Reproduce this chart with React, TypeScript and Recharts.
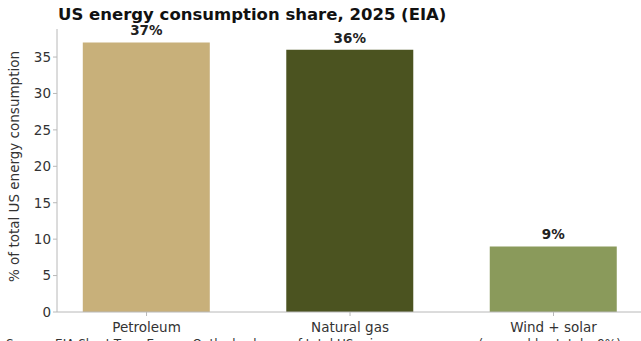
import * as React from "react";
import { BarChart, Bar, XAxis, YAxis, Cell, LabelList } from "recharts";

// values
const categories = ["Petroleum", "Natural gas", "Wind + solar"];
const shares = [37, 36, 9];
const barColors = ["#c8b07a", "#4b5320", "#8a9a5b"];
const yTicks = [0, 5, 10, 15, 20, 25, 30, 35];

const data = categories.map((name, i) => ({ x: i, name, share: shares[i] }));

const font = "DejaVu Sans, sans-serif";
const axisColor = "#b8b8b8";
const textColor = "#333";

export default function App() {
  return (
    <div
      style={{
        position: "fixed",
        left: 0,
        top: 0,
        width: 641,
        height: 341,
        overflow: "hidden",
        background: "#fff",
        fontFamily: font,
      }}
    >
      <BarChart
        width={641}
        height={341}
        data={data}
        margin={{ top: 29, right: 0, bottom: 0, left: 0 }}
      >
        <XAxis
          dataKey="x"
          type="number"
          domain={[-0.44, 2.43]}
          ticks={[0, 1, 2]}
          tickFormatter={(v: number) => categories[v] ?? ""}
          height={29}
          stroke={axisColor}
          tickSize={4}
          tickMargin={6}
          tick={{ fill: textColor, fontSize: 13.5, fontFamily: font }}
          allowDataOverflow
        />
        <YAxis
          domain={[0, 38.85]}
          ticks={yTicks}
          width={57}
          stroke={axisColor}
          tickSize={4}
          tick={{ fill: textColor, fontSize: 13.5, fontFamily: font }}
          allowDataOverflow
          label={{
            value: "% of total US energy consumption",
            angle: -90,
            position: "insideLeft",
            offset: 14,
            dy: -4,
            style: { textAnchor: "middle", fill: textColor, fontSize: 13.5, fontFamily: font },
          }}
        />
        <Bar dataKey="share" barSize={127} isAnimationActive={false}>
          {data.map((d, i) => (
            <Cell key={d.name} fill={barColors[i]} />
          ))}
          <LabelList
            dataKey="share"
            position="top"
            offset={7}
            formatter={(v: any) => `${v}%`}
            style={{ fontWeight: "bold", fill: "#222", fontSize: 13.5, fontFamily: font }}
          />
        </Bar>
      </BarChart>
      <div
        style={{
          position: "absolute",
          left: 58,
          top: 5,
          fontSize: 16.5,
          fontWeight: "bold",
          color: "#111",
          whiteSpace: "nowrap",
        }}
      >
        US energy consumption share, 2025 (EIA)
      </div>
      <div
        style={{
          position: "absolute",
          left: 6,
          top: 337,
          fontSize: 12,
          color: textColor,
          whiteSpace: "nowrap",
        }}
      >
        Source: EIA Short-Term Energy Outlook; shares of total US primary energy use (renewables total ~9%)
      </div>
    </div>
  );
}
